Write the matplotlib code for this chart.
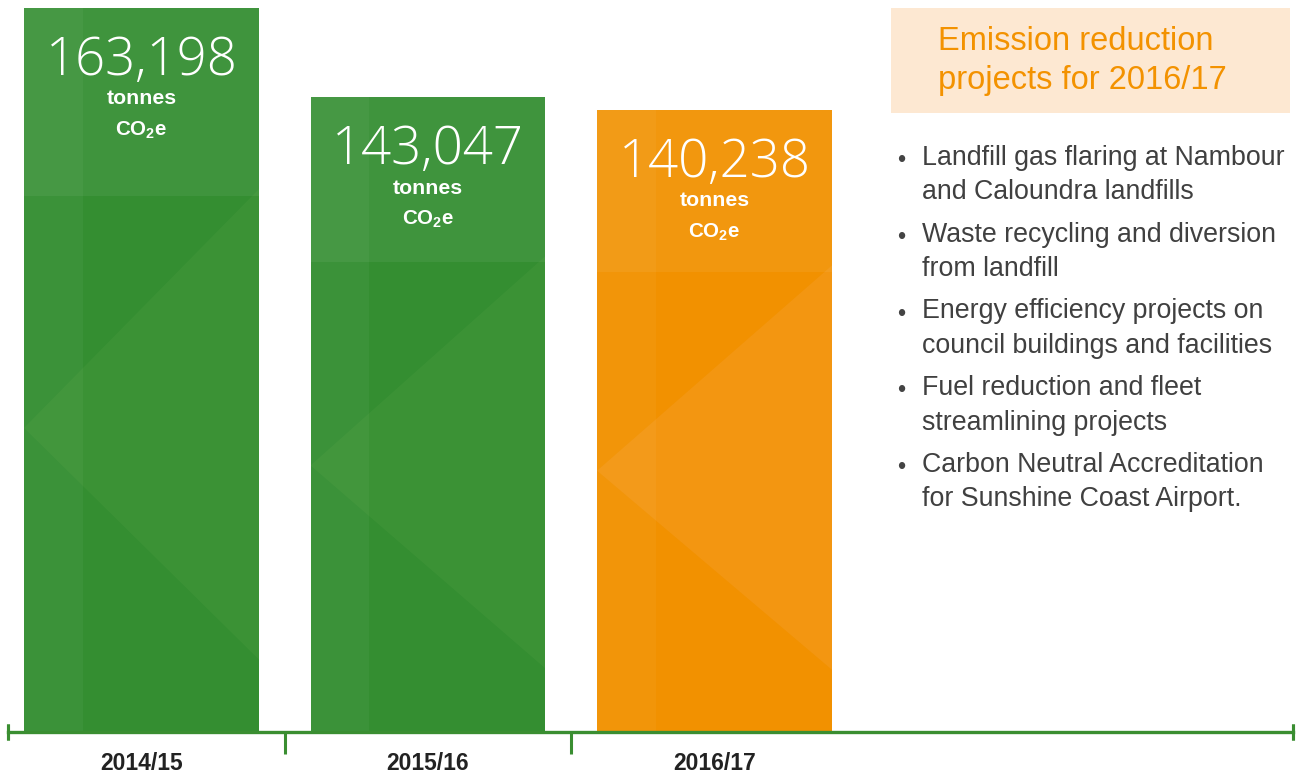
import matplotlib.pyplot as plt
from matplotlib.patches import Rectangle, Polygon

# data
years = ["2014/15", "2015/16", "2016/17"]
emissions = [163198, 143047, 140238]
bar_colors = ["#348e31", "#348e31", "#f29100"]
shade_colors = ["#4a9a3f", "#4a9a3f", "#f5a033"]
panel_title = "Emission reduction\nprojects for 2016/17"
projects = [
    "Landfill gas flaring at Nambour\nand Caloundra landfills",
    "Waste recycling and diversion\nfrom landfill",
    "Energy efficiency projects on\ncouncil buildings and facilities",
    "Fuel reduction and fleet\nstreamlining projects",
    "Carbon Neutral Accreditation\nfor Sunshine Coast Airport.",
]

W, H = 1299, 778
fig = plt.figure(figsize=(W / 100, H / 100), dpi=100)
plt.rcParams['mathtext.fontset'] = 'custom'
plt.rcParams['mathtext.bf'] = 'Liberation Sans:bold'
plt.rcParams['mathtext.rm'] = 'Liberation Sans'

ax = fig.add_axes([8 / W, (H - 732) / H, 1285 / W, (732 - 8) / H])
x = list(range(len(years)))
bars = ax.bar(x, emissions, width=0.82, color=bar_colors, zorder=2)
ax.set_xlim(-0.466, 4.019)
ax.set_ylim(0, max(emissions))

# faint facet texture inside each bar
for b, sc in zip(bars, shade_colors):
    x0, w, h = b.get_x(), b.get_width(), b.get_height()
    tri = Polygon([(x0, h * 0.42), (x0 + w, h * 0.75), (x0 + w, h * 0.1)],
                  closed=True, color=sc, alpha=0.35, lw=0, zorder=2.5)
    ax.add_patch(tri)
    tri.set_clip_path(b)
    band = Rectangle((x0, h * 0.74), w, h * 0.26, color="white", alpha=0.06, lw=0, zorder=2.6)
    ax.add_patch(band)
    band.set_clip_path(b)
    strip = Rectangle((x0, 0), w * 0.25, h, color="white", alpha=0.04, lw=0, zorder=2.6)
    ax.add_patch(strip)
    strip.set_clip_path(b)

for s in ax.spines.values():
    s.set_visible(False)
ax.set_yticks([])
ax.set_xticks([])
ax.axhline(0, color="#3a8e31", lw=2.4, zorder=3, clip_on=False)

# separators between categories and end caps
ax.set_xticks([i + 0.5 for i in x[:-1]], minor=True)
ax.tick_params(axis="x", which="minor", length=16, width=2.2, color="#3a8e31", direction="out")
for xe in ax.get_xlim():
    ax.plot([xe, xe], [0, 0], marker="|", ms=12, mew=2.2, color="#3a8e31", clip_on=False, zorder=3)

for xi, lab in zip(x, years):
    ax.annotate(lab, (xi, 0), xytext=(0, -31), textcoords="offset pixels",
                ha="center", va="center", fontsize=16.5, fontweight="bold",
                family="Liberation Sans", color="#222222")

for xi, v in zip(x, emissions):
    ax.annotate(f"{v:,}", (xi, v), xytext=(0, -53), textcoords="offset pixels",
                ha="center", va="center", fontsize=38, fontweight=300,
                family=["Open Sans", "DejaVu Sans"], color="white")
    ax.annotate("tonnes", (xi, v), xytext=(0, -91), textcoords="offset pixels",
                ha="center", va="center", fontsize=15.3, fontweight="bold",
                family="Liberation Sans", color="white")
    ax.annotate(r"$\mathbf{CO_2e}$", (xi, v), xytext=(0, -122), textcoords="offset pixels",
                ha="center", va="center", fontsize=14.8, color="white")

# right hand panel
fig.patches.append(Rectangle((891 / W, (H - 113) / H), 399 / W, 105 / H,
                             transform=fig.transFigure, color="#fde8d2", lw=0))
fig.text(938 / W, (H - 61) / H, panel_title, ha="left", va="center", fontsize=23.5,
         family="Liberation Sans", color="#f39200", linespacing=1.32)

ytop = 158
for i, p in enumerate(projects):
    yc = ytop + i * 76.8
    fig.text(897 / W, (H - yc - 3) / H, "\u2022", ha="left", va="center", fontsize=17,
             family="Liberation Sans", color="#444444")
    fig.text(922 / W, (H - yc - 17) / H, p, ha="left", va="center", fontsize=19.3,
             family="Liberation Sans", color="#404040", linespacing=1.42)

fig.savefig("out.png", dpi=100)
